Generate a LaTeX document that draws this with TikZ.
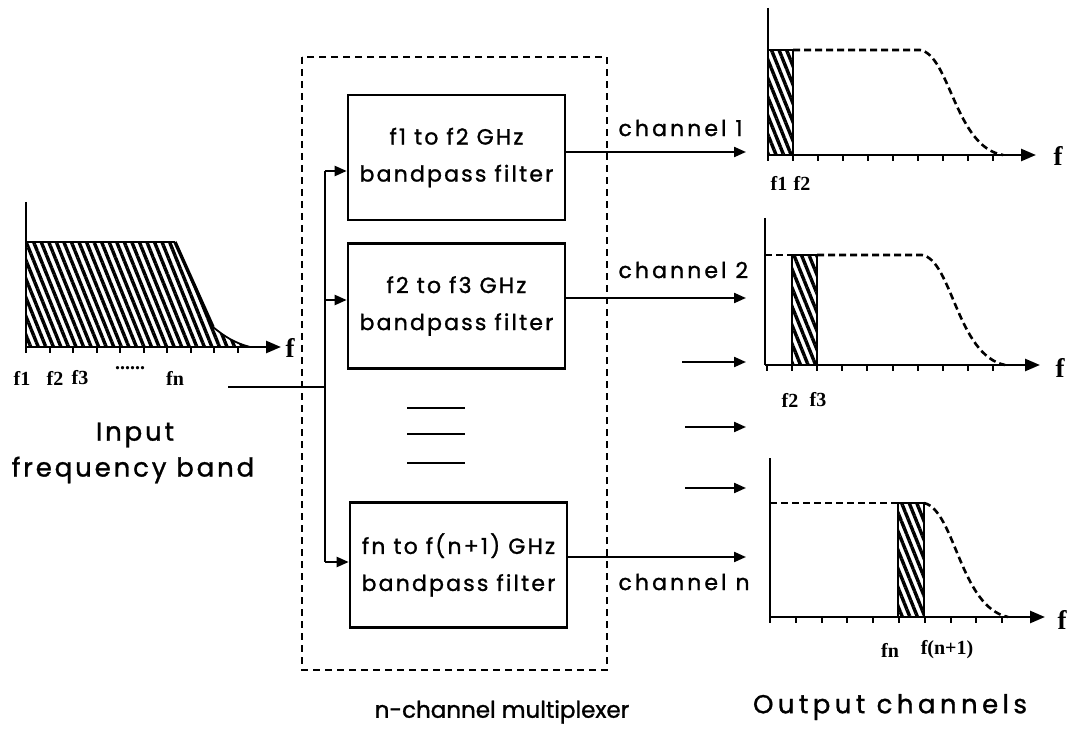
\documentclass[tikz,border=0pt]{standalone}
\usepackage{fontspec}
\setmainfont{Poppins}
\newfontfamily\boxfont[LetterSpace=10,FakeBold=1.2]{Poppins}
\newfontfamily\chfont[LetterSpace=14,FakeBold=1.2]{Poppins}
\newfontfamily\muxfont[LetterSpace=0,FakeBold=1.2]{Poppins}
\newfontfamily\outfont[LetterSpace=17,FakeBold=1.2]{Poppins}
\newfontfamily\infont[LetterSpace=11,FakeBold=1.2]{Poppins}
\newfontfamily\tickfont{Liberation Serif}
\usetikzlibrary{arrows.meta,patterns.meta}
\tikzset{
  wire/.style={line width=2.2pt},
  tip/.style={line width=2.2pt,-{Triangle[length=12pt,width=10pt]}},
  axisl/.style={line width=2.6pt,-{Triangle[length=15pt,width=12pt]}},
  filt/.style={draw,line width=2.6pt,minimum width=217pt,minimum height=125pt,inner sep=0pt,align=center,font=\boxfont\fontsize{22}{37}\selectfont},
  hatch/.style={pattern={Lines[angle=-68,distance=7pt,line width=3.4pt]}},
  dcurve/.style={line width=2.6pt,dash pattern=on 7pt off 4pt},
  tk/.style={line width=2pt},
  chtext/.style={font=\chfont\fontsize{22}{24}\selectfont,anchor=west},
  flab/.style={font=\tickfont\bfseries\fontsize{27}{27}\selectfont},
  tlab/.style={font=\tickfont\bfseries\fontsize{20}{20}\selectfont},
}
\begin{document}
\begin{tikzpicture}[x=1pt,y=-1pt]
\useasboundingbox (0,0) rectangle (1072,738);
\fill[white] (0,0) rectangle (1072,738);

% ---------- input spectrum ----------
\fill[hatch] (26,242) -- (175,242) -- (213,327) .. controls (225,337) and (235,343) .. (250,347) -- (26,347) -- cycle;
\draw[line width=2.4pt] (26,242) -- (175,242);
\draw[line width=3.4pt] (175,242) -- (213,327);
\draw[line width=1.8pt] (213,327) .. controls (225,337) and (235,343) .. (250,347);
\draw[line width=2.8pt] (26,202) -- (26,347);
\draw[axisl] (26,347) -- (281,347);
\foreach \k in {0,...,9} \draw[tk] (26+23.5*\k,347) -- ++(0,6);
\node[flab] (fin) at (290,348) {f};
\node[tlab] (t1) at (22,378) {f1};
\node[tlab] (t2) at (55,378) {f2};
\node[tlab] (t3) at (80,378) {f3};
\node[tlab] (tdots) at (130,368) {......};
\node[tlab] (tn) at (175,378) {fn};
\node[font=\infont\fontsize{26}{30}\selectfont] (inl1) at (135,435) {Input};
\node[font=\infont\fontsize{26}{30}\selectfont] (inl2) at (133,470) {frequency band};

% ---------- multiplexer ----------
\draw[line width=2.4pt,dash pattern=on 7pt off 5pt] (302,57) rectangle (607,670);
\node[filt] (b1) at (456.5,157.5) {f1 to f2 GHz\\bandpass filter};
\node[filt] (b2) at (456.5,306) {f2 to f3 GHz\\bandpass filter};
\node[filt] (b3) at (458.5,565) {fn to f(n+1) GHz\\bandpass filter};
\coordinate (bt) at (325,171);
\coordinate (bm) at (325,300);
\coordinate (bi) at (325,387);
\coordinate (bb) at (325,562);
\coordinate (in) at (228,387);
\draw[wire] (bt) -- (bb);
\draw[wire] (in) -- (bi);
\draw[tip] (bt) -- (b1.west |- bt);
\draw[tip] (bm) -- (b2.west |- bm);
\draw[tip] (bb) -- (b3.west |- bb);
\draw[wire] (407,408) -- (465,408);
\draw[wire] (407,434) -- (465,434);
\draw[wire] (407,463) -- (465,463);

% ---------- outputs ----------
\coordinate (o1) at (746,152);
\coordinate (o2) at (746,298);
\coordinate (o3) at (746,557);
\draw[tip] (b1.east |- o1) -- (o1);
\draw[tip] (b2.east |- o2) -- (o2);
\draw[tip] (b3.east |- o3) -- (o3);
\coordinate (a1s) at (682,362); \coordinate (a1e) at (746,362);
\coordinate (a2s) at (685,427); \coordinate (a2e) at (746,427);
\coordinate (a3s) at (685,488); \coordinate (a3e) at (746,488);
\draw[tip] (a1s) -- (a1e);
\draw[tip] (a2s) -- (a2e);
\draw[tip] (a3s) -- (a3e);
\node[chtext] (c1) at (615,128) {channel 1};
\node[chtext] (c2) at (615,270) {channel 2};
\node[chtext] (cn) at (615,582) {channel n};

% ---------- output spectrum 1 ----------
\fill[hatch] (768,50) rectangle (793,155);
\draw[line width=2.4pt] (768,50) -- (793,50) -- (793,155);
\draw[dcurve] (793,50) -- (920,50) .. controls (950,55) and (955,147) .. (1003,155);
\draw[line width=2.8pt] (768,8) -- (768,155);
\draw[axisl] (768,155) -- (1036,155);
\foreach \k in {0,...,9} \draw[tk] (768+25*\k,155) -- ++(0,6);
\node[flab] (f1) at (1058,156) {f};
\node[tlab] (l11) at (779,183) {f1};
\node[tlab] (l12) at (802,183) {f2};

% ---------- output spectrum 2 ----------
\fill[hatch] (792,255) rectangle (817,365);
\draw[line width=2.4pt] (792,365) -- (792,255) -- (817,255) -- (817,365);
\draw[dcurve] (765,255) -- (792,255);
\draw[dcurve] (817,255) -- (922,255) .. controls (952,260) and (957,355) .. (1005,365);
\draw[line width=2.8pt] (765,218) -- (765,365);
\draw[axisl] (765,365) -- (1040,365);
\foreach \k in {0,...,9} \draw[tk] (767+25.1*\k,365) -- ++(0,6);
\node[flab] (f2) at (1060,368) {f};
\node[tlab] (l21) at (790,400) {f2};
\node[tlab] (l22) at (818,400) {f3};

% ---------- output spectrum n ----------
\fill[hatch] (898,503) rectangle (924,617);
\draw[line width=2.4pt] (898,617) -- (898,503) -- (924,503) -- (924,617);
\draw[dcurve] (770,503) -- (898,503);
\draw[dcurve] (924,503) .. controls (955,510) and (960,607) .. (1008,617);
\draw[line width=2.8pt] (770,458) -- (770,617);
\draw[axisl] (770,617) -- (1045,617);
\foreach \k in {0,...,9} \draw[tk] (770+25.8*\k,617) -- ++(0,6);
\node[flab] (f3) at (1062,620) {f};
\node[tlab] (l31) at (890,650) {fn};
\node[tlab] (l32) at (947,650) {f(n+1)};

% ---------- captions ----------
\node[font=\muxfont\fontsize{23}{26}\selectfont] (mux) at (502,712) {n-channel multiplexer};
\node[font=\outfont\fontsize{26}{30}\selectfont] (outl) at (890,707) {Output channels};
\end{tikzpicture}
\end{document}
